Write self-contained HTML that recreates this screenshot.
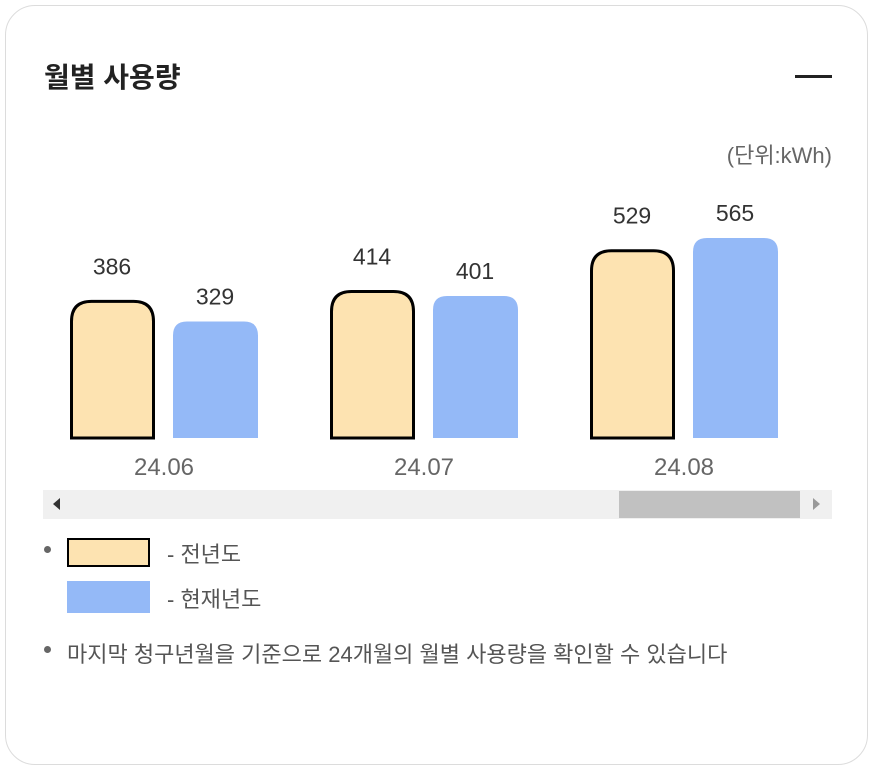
<!DOCTYPE html>
<html><head><meta charset="utf-8"><style>
body{margin:0;width:878px;height:780px;background:#fff;font-family:"Liberation Sans","Noto Sans CJK KR",sans-serif;position:relative;overflow:hidden}
.card{position:absolute;left:5px;top:5px;width:863px;height:760px;border:1px solid #dcdcdc;border-radius:30px;box-sizing:border-box}
.abs{position:absolute}
</style></head><body>
<div class="card"></div>
<div class="abs" style="left:44px;top:56px;font-size:28px;font-weight:bold;color:#222">월별 사용량</div>
<div class="abs" style="left:795px;top:75px;width:37px;height:3px;background:#222"></div>
<div class="abs" style="right:46px;top:138px;font-size:22px;color:#666">(단위:kWh)</div>
<svg class="abs" style="left:0;top:0" width="878" height="530" id="chart"></svg>
<div class="abs" style="left:43px;top:490px;width:789px;height:29px;background:#f0f0f0"></div>
<div class="abs" style="left:619px;top:491px;width:181px;height:27px;background:#c1c1c1"></div>
<div class="abs" style="left:53px;top:498px;width:0;height:0;border-top:6px solid transparent;border-bottom:6px solid transparent;border-right:7px solid #333"></div>
<div class="abs" style="left:813px;top:498px;width:0;height:0;border-top:6px solid transparent;border-bottom:6px solid transparent;border-left:7px solid #999"></div>
<div class="abs" style="left:44px;top:546px;width:7px;height:7px;border-radius:50%;background:#666"></div>
<div class="abs" style="left:67px;top:538px;width:83px;height:29px;box-sizing:border-box;border:2px solid #000;background:#fde3b1"></div>
<div class="abs" style="left:167px;top:537px;font-size:22px;color:#555">- 전년도</div>
<div class="abs" style="left:67px;top:581px;width:83px;height:32px;background:#94b9f7"></div>
<div class="abs" style="left:167px;top:582px;font-size:22px;color:#555">- 현재년도</div>
<div class="abs" style="left:44px;top:646px;width:7px;height:7px;border-radius:50%;background:#666"></div>
<div class="abs" style="left:67px;top:636px;width:760px;font-size:22px;line-height:38px;color:#555">마지막 청구년월을 기준으로 24개월의 월별 사용량을 확인할 수 있습니다</div>
<script>
const categories=["24.06","24.07","24.08"];
const prevValues=[386,414,529];
const currValues=[329,401,565];
const svg=document.getElementById('chart');
const NS="http://www.w3.org/2000/svg";
const baseY=438, scale=0.354;
function y(v){return baseY-v*scale;}
function xGroup(i){return 70+i*260;}
function barPath(x,top,w,r){const h=baseY-top;r=Math.min(r,h);return `M${x},${baseY}V${top+r}Q${x},${top} ${x+r},${top}H${x+w-r}Q${x+w},${top} ${x+w},${top+r}V${baseY}Z`;}
function text(x,yy,s,size,fill,name){const t=document.createElementNS(NS,'text');t.setAttribute('x',x);t.setAttribute('y',yy);t.setAttribute('text-anchor','middle');t.setAttribute('font-size',size);t.setAttribute('fill',fill);t.textContent=s;


svg.appendChild(t);}
categories.forEach((c,i)=>{
 const x0=xGroup(i);
 const p=document.createElementNS(NS,'path');p.setAttribute('d',barPath(x0+1.5,y(prevValues[i]),82,20));p.setAttribute('fill','#fde3b1');p.setAttribute('stroke','#000');p.setAttribute('stroke-width','3');
 
 
 svg.appendChild(p);
 const q=document.createElementNS(NS,'path');q.setAttribute('d',barPath(x0+103,y(currValues[i]),85,14));q.setAttribute('fill','#94b9f7');
 
 
 svg.appendChild(q);
 text(x0+42,y(prevValues[i])-27,prevValues[i],23,'#333','value-label-prev');
 text(x0+145,y(currValues[i])-17,currValues[i],23,'#333','value-label-current');
 text(x0+94,475,c,24,'#666','x-axis-label');
});
</script>
</body></html>
